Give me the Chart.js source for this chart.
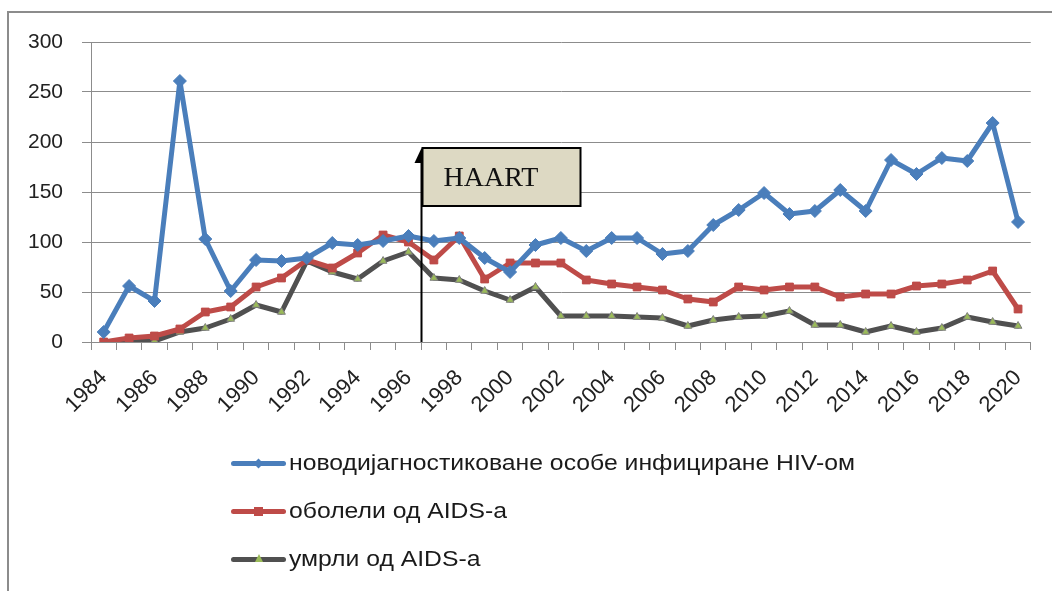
<!DOCTYPE html>
<html>
<head>
<meta charset="utf-8">
<script src="https://cdn.jsdelivr.net/npm/chart.js@4/dist/chart.umd.min.js"></script>
<style>
html,body{margin:0;padding:0;background:#fff;width:1052px;height:591px;overflow:hidden;position:relative;}
#frame{position:absolute;left:7px;top:11px;width:1100px;height:700px;border:2px solid #8c8c8c;box-sizing:border-box;}
#c{position:absolute;left:0;top:0;}
#legend{position:absolute;left:231px;top:439px;font-family:"Liberation Sans",Arial,sans-serif;font-size:22px;color:#1a1a1a;}
.item{height:48px;display:flex;align-items:center;white-space:nowrap;}
.sample{position:relative;width:55px;height:5px;border-radius:3px;margin-right:3px;flex:none;}
.txt{display:inline-block;transform:scaleX(1.125);transform-origin:0 50%;}
.mk{position:absolute;left:50%;top:50%;}
</style>
</head>
<body>
<div id="frame"></div>
<canvas id="c" width="1052" height="591"></canvas>
<div id="legend"></div>
<script>
// ---- data ----
const years = [1984,1985,1986,1987,1988,1989,1990,1991,1992,1993,1994,1995,1996,1997,1998,1999,2000,2001,2002,2003,2004,2005,2006,2007,2008,2009,2010,2011,2012,2013,2014,2015,2016,2017,2018,2019,2020];
const newlyDiagnosed = [10,56,41,261,103,51,82,81,84,99,97,101,106,101,104,84,70,97,104,91,104,104,88,91,117,132,149,128,131,152,131,182,168,184,181,219,120];
const aidsCases = [0,4,6,13,30,35,55,64,82,74,89,107,100,82,106,63,79,79,79,62,58,55,52,43,40,55,52,55,55,45,48,48,56,58,62,71,33];
const aidsDeaths = [0,1,1,10,14,23,37,30,81,70,63,81,90,64,62,51,42,55,26,26,26,25,24,16,22,25,26,31,17,17,10,16,10,14,25,20,16];
const seriesLabels = ['новодијагностиковане особе инфициране HIV-ом','оболели од AIDS-а','умрли од AIDS-а'];
const yTicks = {min:0, max:300, step:50};
const haartLabel = 'HAART';
const haartIndex = 12.5;   // between 1996 and 1997
const haartTopValue = 194;
const haartBoxBottomValue = 136;

const FONT = '"Liberation Sans", Arial, sans-serif';
const GRID = '#8c8c8c';
const colors = ['#4A7EBB','#BE4B48','#505050'];

const haartPlugin = {
  id:'haart',
  afterDatasetsDraw(chart){
    const xs = chart.scales.x, ys = chart.scales.y, ctx = chart.ctx;
    const x = Math.round(xs.getPixelForValue(haartIndex)) + 0.5;
    const yBottom = ys.getPixelForValue(0);
    const yTop = ys.getPixelForValue(haartTopValue);
    const yBoxBottom = ys.getPixelForValue(haartBoxBottomValue);
    ctx.save();
    ctx.strokeStyle = '#000';
    ctx.lineWidth = 2;
    ctx.beginPath(); ctx.moveTo(x, yBottom); ctx.lineTo(x, yTop + 8); ctx.stroke();
    ctx.fillStyle = '#000';
    ctx.beginPath(); ctx.moveTo(x, yTop); ctx.lineTo(x - 7, yTop + 15); ctx.lineTo(x + 7, yTop + 15); ctx.closePath(); ctx.fill();
    const bx = x + 1, bw = 158;
    ctx.fillStyle = '#DDD9C3';
    ctx.fillRect(bx, yTop, bw, yBoxBottom - yTop);
    ctx.strokeStyle = '#000';
    ctx.lineWidth = 2;
    ctx.strokeRect(bx, yTop, bw, yBoxBottom - yTop);
    ctx.fillStyle = '#111';
    ctx.font = '28px "Liberation Serif", "Times New Roman", serif';
    ctx.textBaseline = 'alphabetic';
    ctx.fillText(haartLabel, bx + 21, yBoxBottom - 20);
    ctx.restore();
  }
};

const ds = (label, data, color, style, radius, bg, bc, bw) => ({
  label, data, borderColor:color, borderWidth:5, backgroundColor:bg,
  pointStyle:style, pointRadius:radius, pointHoverRadius:radius,
  pointBackgroundColor:bg, pointBorderColor:bc, pointBorderWidth:bw,
  borderJoinStyle:'round', borderCapStyle:'round', tension:0, fill:false
});

const chart = new Chart(document.getElementById('c'), {
  type:'line',
  data:{
    labels: years,
    datasets:[
      ds(seriesLabels[0], newlyDiagnosed, colors[0], 'rectRot', 6.5, colors[0], colors[0], 1),
      ds(seriesLabels[1], aidsCases, colors[1], 'rect', 5.5, colors[1], colors[1], 1),
      ds(seriesLabels[2], aidsDeaths, colors[2], 'triangle', 4.5, '#9BBB59', '#7f7f7f', 1)
    ]
  },
  options:{
    responsive:false, animation:false, devicePixelRatio:1,
    layout:{padding:{left:0, top:42, right:21, bottom:149}},
    plugins:{legend:{display:false}, tooltip:{enabled:false}},
    scales:{
      x:{
        type:'category', offset:true,
        grid:{offset:true, drawOnChartArea:false, drawTicks:true, tickLength:8, color:GRID},
        border:{color:GRID, width:1},
        ticks:{autoSkip:false, minRotation:45, maxRotation:45, padding:15, color:'#222',
               font:{family:FONT, size:22},
               callback:(v,i)=> i % 2 === 0 ? String(years[i]) : ''},
        afterFit:(s)=>{ s.height = 100; }
      },
      y:{
        min:yTicks.min, max:yTicks.max,
        grid:{color:GRID, tickLength:9},
        border:{color:GRID, width:1},
        ticks:{stepSize:yTicks.step, padding:19, color:'#222', font:{family:FONT, size:21}},
        afterFit:(s)=>{ s.width = 91; }
      }
    }
  },
  plugins:[haartPlugin]
});

// ---- HTML legend built from datasets ----
const legend = document.getElementById('legend');
const markers = [
  'width:7px;height:7px;margin:-3.5px 0 0 -3.5px;background:#4A7EBB;transform:rotate(45deg);',
  'width:9px;height:9px;margin:-4.5px 0 0 -4.5px;background:#BE4B48;',
  'width:0;height:0;margin:-5px 0 0 -4px;border-left:4px solid transparent;border-right:4px solid transparent;border-bottom:8px solid #9BBB59;'
];
chart.data.datasets.forEach((d, i) => {
  const item = document.createElement('div'); item.className = 'item';
  const s = document.createElement('div'); s.className = 'sample'; s.style.background = d.borderColor;
  const m = document.createElement('div'); m.className = 'mk'; m.style.cssText += markers[i];
  s.appendChild(m);
  const t = document.createElement('span'); t.className = 'txt'; t.textContent = d.label;
  item.appendChild(s); item.appendChild(t);
  legend.appendChild(item);
});
</script>
</body>
</html>
